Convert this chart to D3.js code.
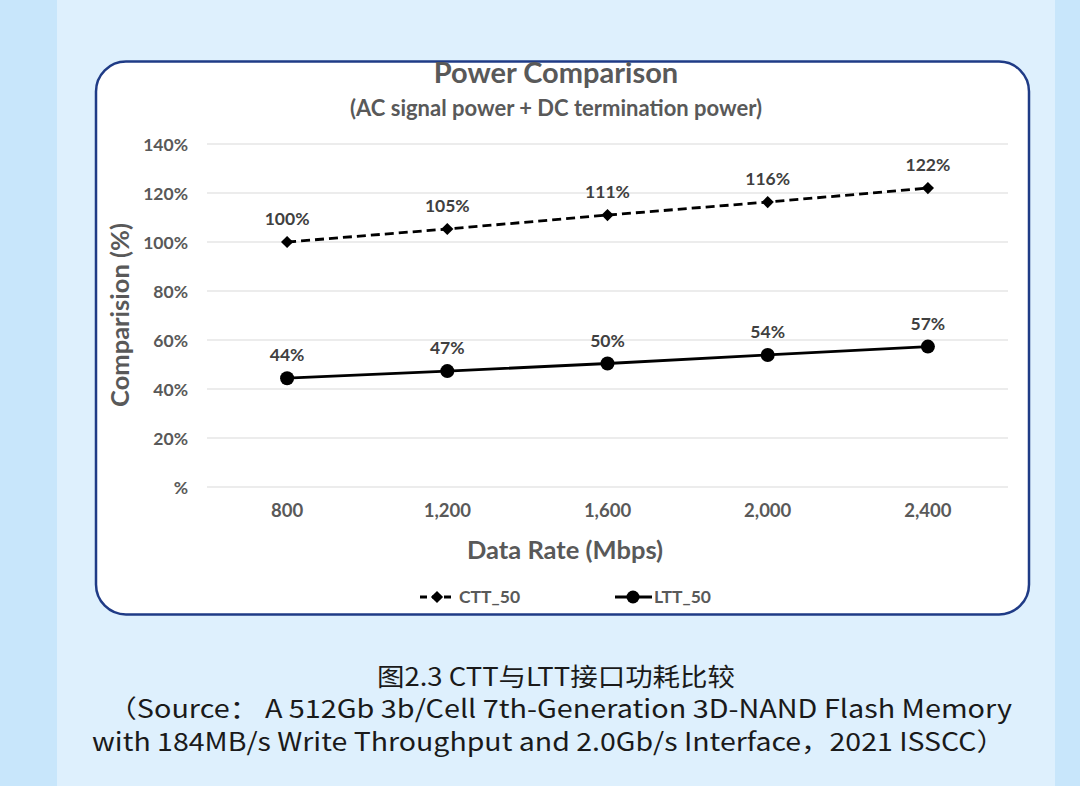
<!DOCTYPE html>
<html><head><meta charset="utf-8">
<script src="https://cdn.jsdelivr.net/npm/d3@7"></script>
<style>html,body{margin:0;padding:0;background:#c8e6fb;}svg{display:block;}</style>
</head><body>
<script>
const categories = ["800", "1,200", "1,600", "2,000", "2,400"];
const cttValues = [100, 105.3, 111, 116.3, 122];
const lttValues = [44.4, 47.3, 50.4, 53.9, 57.3];
const yTicks = [0, 20, 40, 60, 80, 100, 120, 140];
const yTickLabels = ["%", "20%", "40%", "60%", "80%", "100%", "120%", "140%"];
const seriesNames = ["CTT_50", "LTT_50"];

const W = 1080, H = 786;
const svg = d3.select("body").append("svg").attr("width", W).attr("height", H);
const F = "Lato, 'Open Sans', sans-serif";
const gray = "#595959";

// backgrounds
svg.append("rect").attr("x", 0).attr("y", 0).attr("width", W).attr("height", H).attr("fill", "#c8e6fb");
svg.append("rect").attr("x", 57).attr("y", 0).attr("width", 998).attr("height", H).attr("fill", "#def0fd");
svg.append("rect").attr("x", 96).attr("y", 61.5).attr("width", 933).attr("height", 553)
  .attr("rx", 30).attr("fill", "#ffffff").attr("stroke", "#1f3b86").attr("stroke-width", 2.5);

const x = d3.scaleBand().domain(categories).range([207, 1008]);
const y = d3.scaleLinear().domain([0, 140]).range([487, 144]);

// gridlines
svg.append("g").selectAll("line").data(yTicks).join("line")
  .attr("x1", 207).attr("x2", 1008).attr("y1", d => y(d)).attr("y2", d => y(d))
  .attr("stroke", "#d9d9d9").attr("stroke-width", 1.2);

// y axis
const yAxis = svg.append("g").attr("transform", "translate(188,0)")
  .call(d3.axisLeft(y).tickValues(yTicks).tickFormat((d, i) => yTickLabels[i]).tickSize(0).tickPadding(0));
yAxis.select(".domain").remove();
yAxis.selectAll("text").attr("font-family", F).attr("font-weight", "bold").attr("font-size", 17.5).attr("fill", gray).attr("dy", "0.35em");

// x axis
const xAxis = svg.append("g").attr("transform", "translate(0,504)")
  .call(d3.axisBottom(x).tickSize(0).tickPadding(0));
xAxis.select(".domain").remove();
xAxis.selectAll("text").attr("font-family", F).attr("font-weight", "bold").attr("font-size", 18.5).attr("fill", gray).attr("dy", "0.71em");

const cx = (d, i) => x(categories[i]) + x.bandwidth() / 2;

// lines
const line = d3.line().x((d, i) => cx(d, i)).y(d => y(d));
svg.append("path").datum(cttValues).attr("d", line).attr("fill", "none").attr("stroke", "#000")
  .attr("stroke-width", 2.8).attr("stroke-dasharray", "9,5");
svg.append("path").datum(lttValues).attr("d", line).attr("fill", "none").attr("stroke", "#000")
  .attr("stroke-width", 2.8);

const diamond = d3.symbol().type(d3.symbolDiamond2).size(95);
svg.append("g").selectAll("path").data(cttValues).join("path")
  .attr("d", diamond).attr("transform", (d, i) => `translate(${cx(d, i)},${y(d)})`).attr("fill", "#000");
svg.append("g").selectAll("circle").data(lttValues).join("circle")
  .attr("cx", cx).attr("cy", d => y(d)).attr("r", 7).attr("fill", "#000");

// data labels
svg.append("g").selectAll("text").data(cttValues).join("text")
  .attr("x", cx).attr("y", d => y(d) - 17).attr("text-anchor", "middle")
  .attr("font-family", F).attr("font-weight", "bold").attr("font-size", 17.5).attr("fill", "#404040")
  .text(d => Math.round(d) + "%");
svg.append("g").selectAll("text").data(lttValues).join("text")
  .attr("x", cx).attr("y", d => y(d) - 17).attr("text-anchor", "middle")
  .attr("font-family", F).attr("font-weight", "bold").attr("font-size", 17.5).attr("fill", "#404040")
  .text(d => Math.round(d) + "%");

// titles
svg.append("text").attr("x", 556).attr("y", 83).attr("text-anchor", "middle")
  .attr("font-family", F).attr("font-weight", "bold").attr("font-size", 29).attr("fill", gray).text("Power Comparison");
svg.append("text").attr("x", 556).attr("y", 116).attr("text-anchor", "middle")
  .attr("font-family", F).attr("font-weight", "bold").attr("font-size", 22).attr("fill", gray).text("(AC signal power + DC termination power)");
svg.append("text").attr("transform", "translate(129,315) rotate(-90)").attr("text-anchor", "middle")
  .attr("font-family", F).attr("font-weight", "bold").attr("font-size", 25.5).attr("fill", gray).text("Comparision (%)");
svg.append("text").attr("x", 565).attr("y", 559).attr("text-anchor", "middle")
  .attr("font-family", F).attr("font-weight", "bold").attr("font-size", 25.5).attr("fill", gray).text("Data Rate (Mbps)");

// legend
const lg = svg.append("g");
lg.append("line").attr("x1", 420).attr("x2", 453).attr("y1", 597).attr("y2", 597).attr("stroke", "#000").attr("stroke-width", 2.8).attr("stroke-dasharray", "7,5");
lg.append("path").attr("d", diamond).attr("transform", "translate(437,597)").attr("fill", "#000");
lg.append("text").attr("x", 459).attr("y", 603).attr("font-family", F).attr("font-weight", "bold").attr("font-size", 17.5).attr("fill", gray).text(seriesNames[0]);
lg.append("line").attr("x1", 615).attr("x2", 652).attr("y1", 597).attr("y2", 597).attr("stroke", "#000").attr("stroke-width", 2.8);
lg.append("circle").attr("cx", 633).attr("cy", 597).attr("r", 6.5).attr("fill", "#000");
lg.append("text").attr("x", 654).attr("y", 603).attr("font-family", F).attr("font-weight", "bold").attr("font-size", 17.5).attr("fill", gray).text(seriesNames[1]);

// caption
const CF = "'Noto Sans CJK SC', 'Noto Sans', sans-serif";
const caption = ["图2.3 CTT与LTT接口功耗比较",
  "（Source： A 512Gb 3b/Cell 7th-Generation 3D-NAND Flash Memory",
  "with 184MB/s Write Throughput and 2.0Gb/s Interface，2021 ISSCC）"];
const capX = [377, 108, 92];
const capY = [686, 718, 751];
const capLen = [358, 904, 913];
svg.append("g").selectAll("text").data(caption).join("text")
  .attr("x", (d, i) => capX[i]).attr("y", (d, i) => capY[i])
  .attr("textLength", (d, i) => capLen[i]).attr("lengthAdjust", "spacingAndGlyphs")
  .attr("font-family", CF).attr("font-size", 25).attr("fill", "#1a1a1a").text(d => d);
</script>
</body></html>
